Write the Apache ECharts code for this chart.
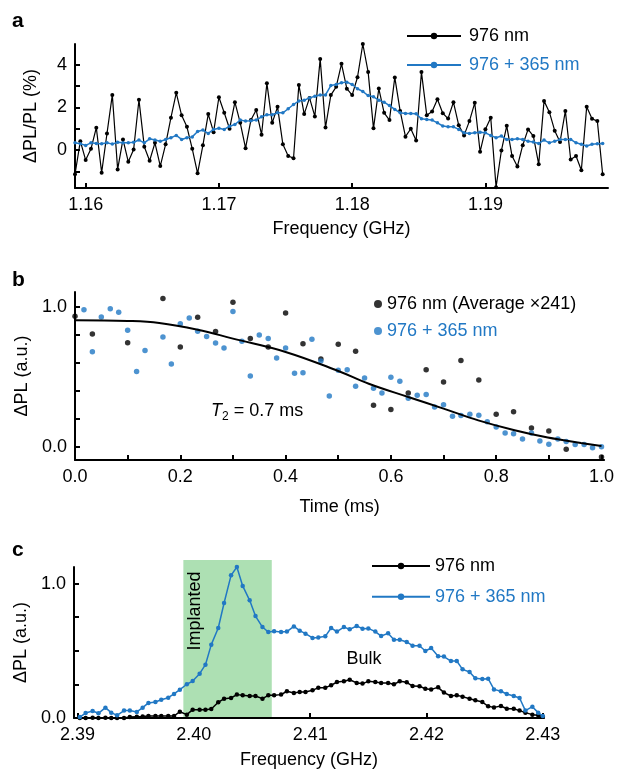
<!DOCTYPE html>
<html><head><meta charset="utf-8">
<script src="https://cdn.jsdelivr.net/npm/echarts@6/dist/echarts.min.js"></script>
<style>html,body{margin:0;padding:0;background:#fff}#c{width:617px;height:773px}</style>
</head><body><div id="c"></div>
<script>
// ---------- Panel a ----------
const freqA = [1.1592,1.1596,1.1600,1.1604,1.1608,1.1612,1.1616,1.1620,1.1624,1.1628,
1.1632,1.1636,1.1640,1.1644,1.1648,1.1652,1.1656,1.1660,1.1664,1.1668,
1.1672,1.1676,1.1680,1.1684,1.1688,1.1692,1.1696,1.1700,1.1704,1.1708,
1.1712,1.1716,1.1720,1.1724,1.1728,1.1732,1.1736,1.1740,1.1744,1.1748,
1.1752,1.1756,1.1760,1.1764,1.1768,1.1772,1.1776,1.1780,1.1784,1.1788,
1.1792,1.1796,1.1800,1.1804,1.1808,1.1812,1.1816,1.1820,1.1824,1.1828,
1.1832,1.1836,1.1840,1.1844,1.1848,1.1852,1.1856,1.1860,1.1864,1.1868,
1.1872,1.1876,1.1880,1.1884,1.1888,1.1892,1.1896,1.1900,1.1904,1.1908,
1.1912,1.1916,1.1920,1.1924,1.1928,1.1932,1.1936,1.1940,1.1944,1.1948,
1.1952,1.1956,1.1960,1.1964,1.1968,1.1972,1.1976,1.1980,1.1984,1.1988];
const blackA = [-1.14,0.42,-0.47,0.06,1.05,-1.06,0.78,2.59,-0.91,0.50,
-0.55,0.03,2.36,0.16,-0.50,0.34,-0.75,0.27,1.52,2.69,
1.63,1.09,0.06,-1.09,0.23,1.69,0.84,2.48,1.75,1.00,
2.25,1.28,0.09,1.41,1.88,0.72,3.14,1.28,2.03,0.27,
-0.28,-0.38,3.06,1.69,2.45,1.58,4.28,1.06,2.58,2.97,
4.05,2.88,2.58,3.42,4.98,3.66,1.02,2.89,1.75,1.41,
3.41,1.84,0.63,1.00,0.45,3.66,1.63,1.81,2.39,1.73,
1.48,2.25,1.16,0.69,1.36,2.22,-0.08,0.98,1.52,-1.74,
-0.02,1.14,-0.28,-0.77,0.23,0.97,0.66,-0.67,2.31,1.78,
0.91,0.38,1.84,-0.44,-0.28,-0.95,2.03,1.47,1.36,-1.14];
const blueA = [0.34,0.30,0.22,0.34,0.31,0.30,0.34,0.28,0.37,0.34,
0.34,0.37,0.47,0.34,0.53,0.47,0.41,0.50,0.58,0.69,
0.50,0.58,0.62,0.87,0.94,0.78,0.97,1.02,0.97,1.12,
1.20,1.41,1.36,1.38,1.41,1.56,1.66,1.66,1.75,1.75,
1.94,2.14,2.31,2.34,2.45,2.53,2.59,2.59,3.03,3.08,
3.16,3.19,3.08,2.88,2.75,2.56,2.50,2.34,2.25,2.09,
1.91,1.75,1.72,1.72,1.70,1.47,1.44,1.41,1.28,1.13,
1.09,1.09,0.97,0.81,0.78,0.81,0.84,0.81,0.69,0.58,
0.66,0.50,0.50,0.53,0.50,0.42,0.38,0.31,0.47,0.34,
0.42,0.50,0.50,0.50,0.34,0.27,0.19,0.27,0.30,0.31];
const xTicksA = [1.16,1.17,1.18,1.19];
const yTicksA = [-1,0,1,2,3,4];
const yLabelsA = [0,2,4];

// ---------- Panel b ----------
const timeBlack = [0,0.033,0.1,0.167,0.2,0.233,0.267,0.3,0.333,0.367,0.4,0.433,0.467,0.5,
0.533,0.567,0.6,0.633,0.667,0.7,0.733,0.767,0.8,0.833,0.867,0.9,0.933,1.0];
const blackB = [0.933,0.807,0.745,1.06,0.714,0.926,0.824,1.033,0.774,0.714,0.957,0.738,0.629,0.733,
0.683,0.298,0.267,0.386,0.552,0.464,0.617,0.479,0.233,0.252,0.136,0.114,-0.017,-0.071];
const timeBlue = [0.017,0.033,0.05,0.067,0.083,0.1,0.117,0.133,0.167,0.183,0.2,0.217,0.233,0.25,0.267,0.283,
0.3,0.317,0.333,0.35,0.367,0.383,0.4,0.417,0.433,0.45,0.467,0.483,0.5,0.517,0.533,0.55,0.567,0.583,0.6,
0.617,0.633,0.65,0.667,0.683,0.7,0.717,0.733,0.75,0.767,0.783,0.8,0.817,0.833,0.85,0.867,0.883,0.9,
0.917,0.933,0.95,0.967,0.983,1.0];
const blueB = [0.981,0.681,0.929,0.988,0.962,0.833,0.54,0.69,0.786,0.593,0.881,0.921,0.826,0.79,0.743,0.707,
0.967,0.755,0.507,0.8,0.774,0.636,0.707,0.526,0.531,0.769,0.614,0.364,0.548,0.552,0.433,0.493,0.419,0.386,0.498,
0.469,0.348,0.369,0.374,0.286,0.302,0.219,0.224,0.233,0.226,0.181,0.143,0.1,0.095,0.057,0.1,0.043,0.019,
0.057,0.04,0.017,0.017,-0.005,0.002];
const fitTime = [0,0.1,0.16,0.233,0.3,0.4,0.5,0.558,0.633,0.7,0.766,0.835,0.898,0.961,1.0];
const fitB = [0.905,0.9,0.886,0.838,0.774,0.679,0.543,0.452,0.357,0.274,0.19,0.119,0.067,0.029,0.007];
const xTicksB = [0,0.1,0.2,0.3,0.4,0.5,0.6,0.7,0.8,0.9,1.0];
const xLabelsB = [0,0.2,0.4,0.6,0.8,1.0];
const yTicksB = [0,0.2,0.4,0.6,0.8,1.0];
const yLabelsB = [0,1.0];

// ---------- Panel c ----------
const freqC = [2.3902,2.3907,2.3913,2.3918,2.3924,2.3929,2.3934,2.3940,2.3945,2.3951,
2.3956,2.3961,2.3967,2.3972,2.3978,2.3983,2.3988,2.3994,2.3999,2.4005,
2.4010,2.4015,2.4021,2.4026,2.4032,2.4037,2.4042,2.4048,2.4053,2.4059,
2.4064,2.4069,2.4075,2.4080,2.4086,2.4091,2.4096,2.4102,2.4107,2.4113,
2.4118,2.4123,2.4129,2.4134,2.4140,2.4145,2.4150,2.4156,2.4161,2.4167,
2.4172,2.4177,2.4183,2.4188,2.4194,2.4199,2.4204,2.4210,2.4215,2.4221,
2.4226,2.4231,2.4237,2.4242,2.4248,2.4253,2.4258,2.4264,2.4269,2.4275,
2.4280,2.4285,2.4291,2.4296,2.4300];
const blackC = [0.0,0.0,0.002,0.0,0.002,0.0,0.0,0.0,0.007,0.01,
0.012,0.015,0.015,0.015,0.015,0.015,0.047,0.025,0.062,0.062,
0.062,0.067,0.117,0.144,0.149,0.174,0.169,0.164,0.164,0.144,
0.169,0.169,0.174,0.199,0.186,0.194,0.194,0.206,0.226,0.226,
0.243,0.268,0.273,0.285,0.261,0.256,0.273,0.268,0.261,0.261,
0.251,0.273,0.266,0.238,0.236,0.218,0.213,0.228,0.189,0.164,
0.169,0.159,0.144,0.132,0.119,0.087,0.079,0.089,0.069,0.069,
0.055,0.04,0.025,0.02,0.01];
const blueC = [0.007,0.037,0.052,0.035,0.077,0.04,0.02,0.055,0.055,0.045,
0.077,0.112,0.119,0.136,0.151,0.179,0.211,0.251,0.275,0.33,
0.397,0.546,0.67,0.856,1.062,1.124,0.983,0.876,0.759,0.677,
0.64,0.645,0.64,0.643,0.682,0.65,0.628,0.596,0.6,0.608,
0.67,0.643,0.677,0.66,0.685,0.665,0.667,0.643,0.61,0.63,
0.583,0.583,0.566,0.538,0.538,0.499,0.521,0.459,0.457,0.424,
0.424,0.362,0.342,0.295,0.29,0.293,0.213,0.199,0.179,0.164,
0.149,0.055,0.084,0.04,0.015];
const implantedBand = [2.3991, 2.4067];
const xTicksC = [2.39,2.40,2.41,2.42,2.43];
const yTicksC = [0,0.25,0.5,0.75,1.0];
const yLabelsC = [0,1.0];

// ---------- build ----------
const BLUE = '#2178c4';
const GREEN = '#ade0b3';
const FONT = '"Liberation Sans", Arial, Helvetica, sans-serif';
const FS = 18;
const zip = (xs, ys) => xs.map((x, i) => [x, ys[i]]);

function axis(gi, min, max, ticks, labels, fmt, name, nameGap, pos) {
  return {
    type: 'value', gridIndex: gi, min: min, max: max, position: pos,
    name: name, nameLocation: 'middle', nameGap: nameGap,
    nameTextStyle: {color: '#000', fontSize: FS, fontFamily: FONT},
    axisLine: {show: true, onZero: false, lineStyle: {color: '#000', width: 2}},
    axisTick: {show: true, inside: true, length: 5, customValues: ticks, lineStyle: {color: '#000', width: 2}},
    axisLabel: {show: true, customValues: labels, formatter: fmt, color: '#000', fontSize: FS, fontFamily: FONT, margin: 8},
    splitLine: {show: false}
  };
}
function hiddenAxis(gi, min, max) {
  return {type: 'value', gridIndex: gi, min: min, max: max, show: false, splitLine: {show: false}};
}

const chart = echarts.init(document.getElementById('c'), null, {renderer: 'canvas'});
const legendNames = {
  a_black: '976 nm', a_blue: '976 + 365 nm',
  b_black: '976 nm (Average \u00d7241)', b_blue: '976 + 365 nm',
  c_black: '976 nm', c_blue: '976 + 365 nm'
};
const legTS = {fontSize: FS, fontFamily: FONT, color: '#000'};

chart.setOption({
  animation: false,
  backgroundColor: '#fff',
  grid: [
    {left: 75, right: 9, top: 44, height: 144},
    {left: 75, right: 11, top: 292, height: 168},
    {left: 74, right: 73, top: 567, height: 151},
    {left: 74, right: 73, top: 560, height: 157}
  ],
  xAxis: [
    axis(0, 1.1592, 1.1992, xTicksA, xTicksA, v => v.toFixed(2), 'Frequency (GHz)', 32, 'bottom'),
    axis(1, 0, 1.005, xTicksB, xLabelsB, v => v.toFixed(1), 'Time (ms)', 38, 'bottom'),
    axis(2, 2.3897, 2.4301, xTicksC, xTicksC, v => v.toFixed(2), 'Frequency (GHz)', 33, 'bottom'),
    hiddenAxis(3, 2.3897, 2.4301)
  ],
  yAxis: [
    axis(0, -1.78, 4.98, yTicksA, yLabelsA, v => String(Math.round(v)), '\u0394PL/PL (%)', 35, 'left'),
    axis(1, -0.093, 1.107, yTicksB, yLabelsB, v => v.toFixed(1), '\u0394PL (a.u.)', 35, 'left'),
    axis(2, 0, 1.124, yTicksC, yLabelsC, v => v.toFixed(1), '\u0394PL (a.u.)', 34, 'left'),
    hiddenAxis(3, 0, 1)
  ],
  legend: [
    {left: 406, top: 27, padding: 0, orient: 'vertical', itemWidth: 54, itemHeight: 8, itemGap: 11,
     lineStyle: {width: 2}, textStyle: Object.assign({padding: [0, 0, 0, 3]}, legTS), formatter: n => legendNames[n],
     data: [{name: 'a_black'}, {name: 'a_blue', textStyle: {color: BLUE}}]},
    {left: 374, top: 295, padding: 0, orient: 'vertical', itemWidth: 8, itemHeight: 8, itemGap: 9,
     textStyle: legTS, formatter: n => legendNames[n],
     data: [{name: 'b_black', icon: 'circle'}, {name: 'b_blue', icon: 'circle', textStyle: {color: BLUE}}]},
    {left: 371, top: 557, padding: 0, orient: 'vertical', itemWidth: 58, itemHeight: 8, itemGap: 12.7,
     lineStyle: {width: 2}, textStyle: legTS, formatter: n => legendNames[n],
     data: [{name: 'c_black'}, {name: 'c_blue', textStyle: {color: BLUE}}]}
  ],
  series: [
    {name: 'a_black', type: 'line', xAxisIndex: 0, yAxisIndex: 0, data: zip(freqA, blackA),
     symbol: 'circle', symbolSize: 4, color: '#000', lineStyle: {color: '#000', width: 1.2}, itemStyle: {color: '#000'}, z: 3},
    {name: 'a_blue', type: 'line', xAxisIndex: 0, yAxisIndex: 0, data: zip(freqA, blueA),
     symbol: 'circle', symbolSize: 3.5, color: BLUE, lineStyle: {color: BLUE, width: 1.5}, itemStyle: {color: BLUE}, z: 4},

    {name: 'b_black', type: 'scatter', xAxisIndex: 1, yAxisIndex: 1, data: zip(timeBlack, blackB),
     symbol: 'circle', symbolSize: 5.5, itemStyle: {color: '#000'}, z: 3},
    {name: 'b_blue', type: 'scatter', xAxisIndex: 1, yAxisIndex: 1, data: zip(timeBlue, blueB),
     symbol: 'circle', symbolSize: 5.5, itemStyle: {color: BLUE}, z: 4},
    {name: 'fit', type: 'line', xAxisIndex: 1, yAxisIndex: 1, data: zip(fitTime, fitB), smooth: 0.4,
     showSymbol: false, symbol: 'none', lineStyle: {color: '#000', width: 2}, z: 5},

    {name: 'band', type: 'line', xAxisIndex: 3, yAxisIndex: 3, data: [], z: 1, silent: true,
     markArea: {silent: true, itemStyle: {color: GREEN, opacity: 1},
       data: [[{coord: [implantedBand[0], 0]}, {coord: [implantedBand[1], 1]}]]}},
    {name: 'c_black', type: 'line', xAxisIndex: 2, yAxisIndex: 2, data: zip(freqC, blackC),
     symbol: 'circle', symbolSize: 4.5, color: '#000', lineStyle: {color: '#000', width: 1.5}, itemStyle: {color: '#000'}, z: 3},
    {name: 'c_blue', type: 'line', xAxisIndex: 2, yAxisIndex: 2, data: zip(freqC, blueC),
     symbol: 'circle', symbolSize: 4.5, color: BLUE, lineStyle: {color: BLUE, width: 1.5}, itemStyle: {color: BLUE}, z: 4}
  ],
  graphic: [
    {type: 'text', x: 12, y: 21, style: {text: 'a', font: 'bold 21px ' + FONT, fill: '#000', verticalAlign: 'middle'}},
    {type: 'text', x: 12, y: 280, style: {text: 'b', font: 'bold 21px ' + FONT, fill: '#000', verticalAlign: 'middle'}},
    {type: 'text', x: 12, y: 550, style: {text: 'c', font: 'bold 21px ' + FONT, fill: '#000', verticalAlign: 'middle'}},
    {type: 'text', x: 211, y: 411, z: 10, style: {
      text: '{it|T}{sub|2}{n| = 0.7 ms}', verticalAlign: 'middle', fill: '#000',
      rich: {
        it: {fontSize: 18, fontStyle: 'italic', fontFamily: FONT, lineHeight: 24, verticalAlign: 'middle'},
        sub: {fontSize: 12, fontFamily: FONT, lineHeight: 24, verticalAlign: 'bottom'},
        n: {fontSize: 18, fontFamily: FONT, lineHeight: 24, verticalAlign: 'middle'}
      }}},
    {type: 'text', x: 195, y: 611, rotation: Math.PI / 2, z: 10,
     style: {text: 'Implanted', font: FS + 'px ' + FONT, fill: '#000', align: 'center', verticalAlign: 'middle'}},
    {type: 'text', x: 364, y: 659, z: 10,
     style: {text: 'Bulk', font: FS + 'px ' + FONT, fill: '#000', align: 'center', verticalAlign: 'middle'}}
  ]
});
</script></body></html>
